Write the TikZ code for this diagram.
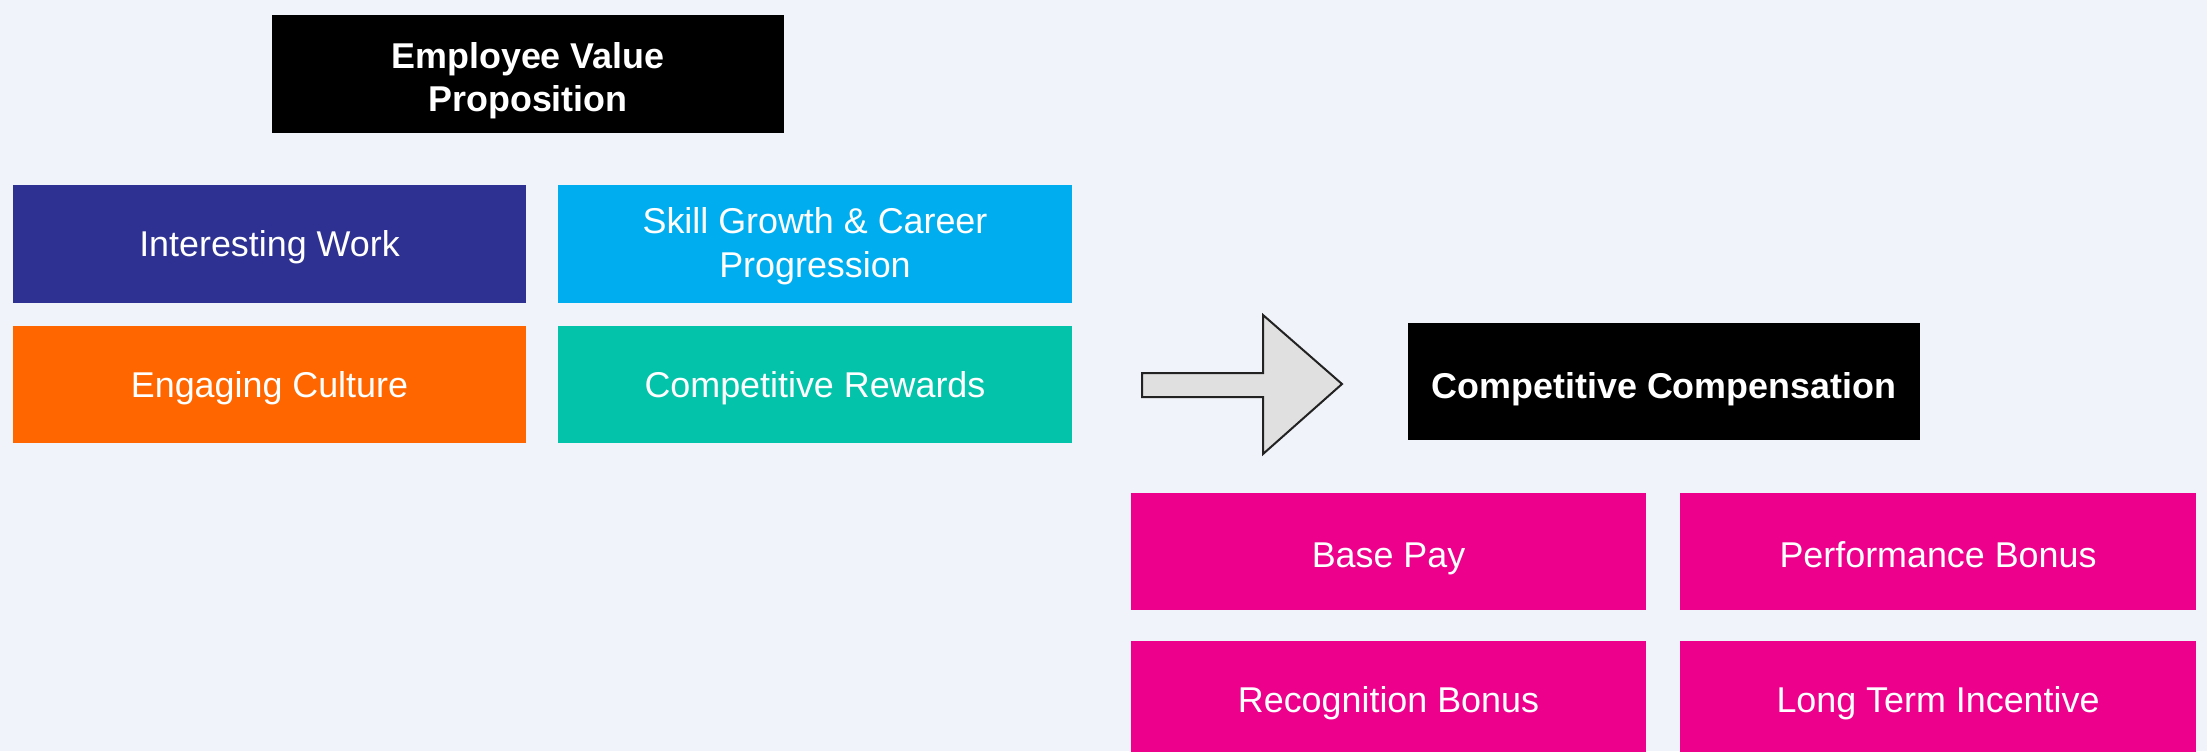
\documentclass[tikz,border=0pt]{standalone}
\usepackage{fontspec}
\setmainfont{Liberation Sans}
\begin{document}
\begin{tikzpicture}[x=0.01cm,y=-0.01cm,
  tile/.style={rectangle,inner sep=0pt,minimum width=5.13cm,minimum height=1.175cm,
    text=white,align=center,font=\fontsize{10.2}{12.5}\selectfont,
    text height=0.87em,text depth=0.15em},
  headbox/.style={tile,fill=black,minimum width=5.12cm,font=\bfseries\fontsize{10.2}{12.5}\selectfont},
  pinkbox/.style={tile,fill=magentaC,minimum width=5.155cm}]
\definecolor{bgC}{HTML}{F0F3F9}
\definecolor{navyC}{HTML}{2E3192}
\definecolor{skyC}{HTML}{00AEEF}
\definecolor{orangeC}{HTML}{FF6600}
\definecolor{tealC}{HTML}{03C4AA}
\definecolor{magentaC}{HTML}{EC008C}
\definecolor{arrowC}{HTML}{E0E0E0}
\definecolor{edgeC}{HTML}{222222}

% canvas
\fill[bgC] (0,0) rectangle (2207,751);
\useasboundingbox (0,0) rectangle (2207,751);
\clip (0,0) rectangle (2207,751);

% employee value proposition
\node[headbox,text height=2.31em] (evp) at (528,74) {Employee Value\\Proposition};
\node[tile,fill=navyC]   (work)    at (269.5,244) {Interesting Work};
\node[tile,fill=skyC,text height=2.063em] (growth) at (815,244) {Skill Growth \& Career\\Progression};
\node[tile,fill=orangeC] (culture) at (269.5,384.5) {Engaging Culture};
\node[tile,fill=tealC]   (rewards) at (815,384.5) {Competitive Rewards};

% block arrow
\coordinate (a1) at (1142,373);
\coordinate (a2) at (1263,373);
\coordinate (a3) at (1263,315);
\coordinate (tip) at (1342,384);
\coordinate (a5) at (1263,454);
\coordinate (a6) at (1263,397);
\coordinate (a7) at (1142,397);
\draw[fill=arrowC,draw=edgeC,line width=0.02cm,line join=miter]
  (a1) -- (a2) -- (a3) -- (tip) -- (a5) -- (a6) -- (a7) -- cycle;

% competitive compensation
\node[headbox,text height=1.094em] (comp) at (1664,381.5) {Competitive Compensation};
\node[pinkbox,text height=1.066em] (base)  at (1388.5,551.5) {Base Pay};
\node[pinkbox,text height=1.066em] (perf)  at (1938,551.5)   {Performance Bonus};
\node[pinkbox] (recog) at (1388.5,699.5) {Recognition Bonus};
\node[pinkbox] (lti)   at (1938,699.5)   {Long Term Incentive};
\end{tikzpicture}
\end{document}
